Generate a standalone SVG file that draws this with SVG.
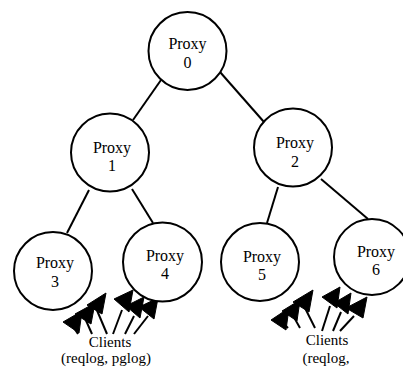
<svg xmlns="http://www.w3.org/2000/svg" width="403" height="368" viewBox="0 0 403 368">
<style>
.n{fill:#fff;stroke:#000;stroke-width:2}
.e{stroke:#000;stroke-width:2;fill:none}
.t{font-family:"Liberation Serif","Times New Roman",serif;font-size:16px;text-anchor:middle;fill:#000}
.c{font-family:"Liberation Serif","Times New Roman",serif;font-size:15px;text-anchor:middle;fill:#000}
.h{fill:#000;stroke:#000;stroke-width:1}
</style>
<rect width="403" height="368" fill="#fff"/>
<g id="connectors">
<line class="e" x1="161" y1="80" x2="133" y2="120"/>
<line class="e" x1="220" y1="72" x2="264" y2="122"/>
<line class="e" x1="89" y1="190" x2="67" y2="233"/>
<line class="e" x1="132" y1="189" x2="153" y2="223"/>
<line class="e" x1="278" y1="187" x2="267" y2="223"/>
<line class="e" x1="321" y1="179" x2="368" y2="219"/>
<!-- clients to proxy 3 -->
<line class="e" x1="78" y1="334" x2="72" y2="325"/>
<line class="e" x1="92" y1="334" x2="84" y2="316"/>
<line class="e" x1="107" y1="334" x2="96" y2="308"/>
<polygon class="h" points="82,311 79,333 63,322"/>
<polygon class="h" points="95,303 91,324 75,314"/>
<polygon class="h" points="106,293 102,314 87,305"/>
<!-- clients to proxy 4 -->
<line class="e" x1="113" y1="334" x2="122" y2="310"/>
<line class="e" x1="125" y1="334" x2="134" y2="316"/>
<line class="e" x1="134" y1="334" x2="148" y2="316"/>
<polygon class="h" points="114,299 133,290 129,312"/>
<polygon class="h" points="126,306 144,297 140,318"/>
<polygon class="h" points="139,307 158,298 154,319"/>
<!-- clients to proxy 5 -->
<line class="e" x1="288" y1="328" x2="280" y2="320"/>
<line class="e" x1="300" y1="328" x2="291" y2="312"/>
<line class="e" x1="315" y1="328" x2="303" y2="304"/>
<polygon class="h" points="289,308 286,330 271,320"/>
<polygon class="h" points="300,300 297,321 282,311"/>
<polygon class="h" points="313,290 309,312 293,302"/>
<!-- clients to proxy 6 -->
<line class="e" x1="322" y1="331" x2="330" y2="306"/>
<line class="e" x1="333" y1="331" x2="341" y2="312"/>
<line class="e" x1="340" y1="331" x2="354" y2="316"/>
<polygon class="h" points="322,297 340,287 337,308"/>
<polygon class="h" points="334,303 351,293 348,314"/>
<polygon class="h" points="346,308 367,297 363,318"/>
</g>
<g id="proxy0"><circle class="n" cx="187.5" cy="51" r="39"/><text class="t" x="187.5" y="49">Proxy</text><text class="t" x="187.5" y="68">0</text></g>
<g id="proxy1"><circle class="n" cx="110" cy="152.5" r="39"/><text class="t" x="112" y="153">Proxy</text><text class="t" x="112" y="171">1</text></g>
<g id="proxy2"><circle class="n" cx="293" cy="147.5" r="39"/><text class="t" x="295" y="148">Proxy</text><text class="t" x="295" y="167">2</text></g>
<g id="proxy3"><circle class="n" cx="53" cy="271" r="39"/><text class="t" x="55" y="268">Proxy</text><text class="t" x="55" y="287">3</text></g>
<g id="proxy4"><circle class="n" cx="162.5" cy="262" r="39.5"/><text class="t" x="165" y="261">Proxy</text><text class="t" x="165" y="279">4</text></g>
<g id="proxy5"><circle class="n" cx="260" cy="262" r="39"/><text class="t" x="262" y="262">Proxy</text><text class="t" x="262" y="280">5</text></g>
<g id="proxy6"><circle class="n" cx="372" cy="257" r="38"/><text class="t" x="376" y="257">Proxy</text><text class="t" x="376" y="275">6</text></g>
<g id="clients1"><text class="c" x="110" y="347">Clients</text><text class="c" x="106" y="363">(reqlog, pglog)</text></g>
<g id="clients2"><text class="c" x="327" y="345">Clients</text><text class="c" x="326" y="363">(reqlog,</text></g>
</svg>
